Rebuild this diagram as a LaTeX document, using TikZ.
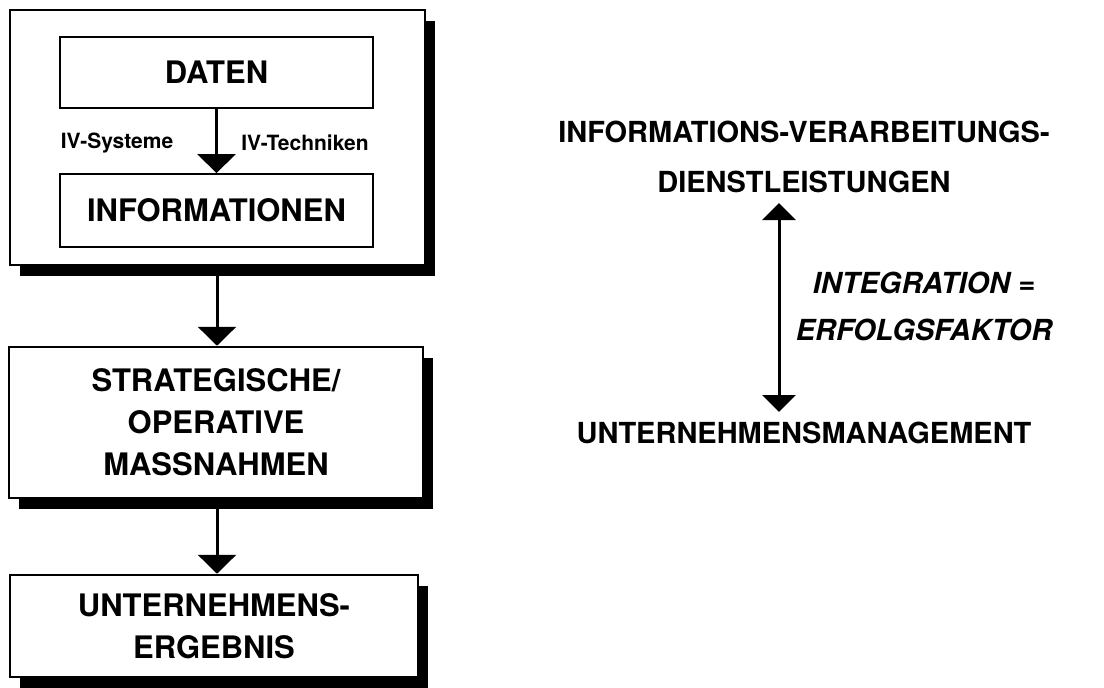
\documentclass[tikz,border=0pt]{standalone}
\usepackage{fontspec}
\setmainfont{TeX Gyre Heros}
\usetikzlibrary{arrows.meta,shadows}
\begin{document}
\begin{tikzpicture}[x=1pt,y=1pt,
  outerbox/.style={draw, line width=2.5pt, fill=white, inner sep=0pt,
    drop shadow={shadow xshift=10pt, shadow yshift=-11pt, fill=black, opacity=1}},
  innerbox/.style={draw, line width=1.8pt, fill=white, inner sep=0pt},
  boxtext/.style={font=\fontsize{31}{42}\selectfont\bfseries, align=center, inner sep=0pt},
  smalllabel/.style={font=\fontsize{21}{25}\selectfont\bfseries, inner sep=0pt},
  righttext/.style={font=\fontsize{29}{50}\selectfont\bfseries, align=center, inner sep=0pt},
  italtext/.style={font=\fontsize{29}{47}\selectfont\bfseries\itshape, align=center, inner sep=0pt},
  bigarrow/.style={line width=3pt, -{Triangle[width=38pt,length=19pt]}},
  dblarrow/.style={line width=3pt, {Triangle[width=33pt,length=17pt]}-{Triangle[width=33pt,length=17pt]}}
]
\useasboundingbox (0,0) rectangle (1104,-688);
\fill[white] (0,0) rectangle (1104,-688);

% left column
\node[outerbox, minimum width=415pt, minimum height=255pt] (b1) at (217.5,-137.5) {};
\node[innerbox, minimum width=313pt, minimum height=71pt] (daten) at (216.5,-72.5) {};
\node[boxtext] at (daten) {DATEN};
\node[innerbox, minimum width=313pt, minimum height=73pt] (info) at (216.5,-210.5) {};
\node[boxtext] at (info) {INFORMATIONEN};
\node[smalllabel] (ivs) at (117,-143) {IV-Systeme};
\node[smalllabel] (ivt) at (305,-143) {IV-Techniken};
\draw[bigarrow] (daten.south) -- (daten.south |- info.north);

\node[outerbox, minimum width=414pt, minimum height=151pt] (b2) at (216,-422.5) {};
\node[boxtext] at (b2) {STRATEGISCHE/\\OPERATIVE\\MASSNAHMEN};

\node[outerbox, minimum width=408pt, minimum height=102pt] (b3) at (214,-626) {};
\node[boxtext] at (b3) {UNTERNEHMENS-\\ERGEBNIS};

\coordinate (ax) at (217,0);
\draw[bigarrow] (b1.south -| ax) -- (b2.north -| ax);
\draw[bigarrow] (b2.south -| ax) -- (b3.north -| ax);

% right part
\node[righttext] (ivd) at (804,-157) {INFORMATIONS-VERARBEITUNGS-\\DIENSTLEISTUNGEN};
\node[righttext] (um) at (804,-433) {UNTERNEHMENSMANAGEMENT};
\node[italtext] (integ) at (924,-306.5) {INTEGRATION =\\ERFOLGSFAKTOR};
\coordinate (atop) at (779,-203);
\coordinate (abot) at (779,-412);
\draw[dblarrow] (atop) -- (abot);
\end{tikzpicture}
\end{document}
